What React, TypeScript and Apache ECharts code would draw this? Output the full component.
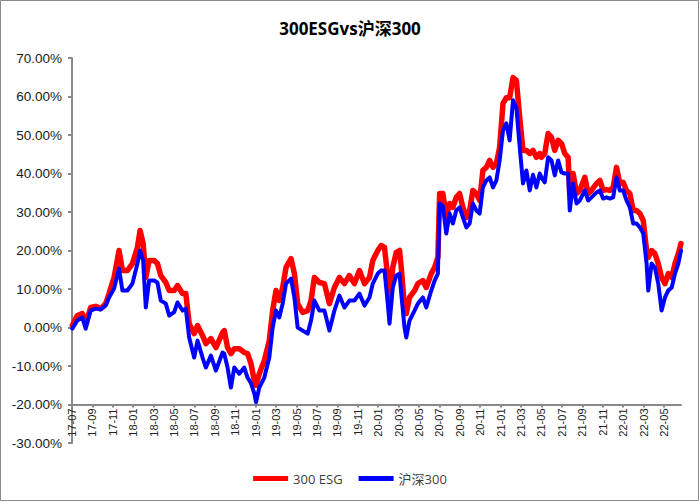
import React, { useEffect, useRef } from "react";
import * as echarts from "echarts";

// x positions in months since 2017-07-01
const monthOffset = [
  0.03, 0.52, 1.01, 1.34, 1.83, 2.32, 2.81, 3.3, 3.63, 4.12, 4.61, 4.94, 5.43, 5.92, 6.41, 6.67, 6.97,
  7.23, 7.56, 8.05, 8.37, 8.7, 9.19, 9.52, 10.01, 10.34, 10.83, 11.15, 11.48, 11.97, 12.3, 12.79, 13.12,
  13.61, 14.1, 14.75, 14.92, 15.24, 15.57, 15.9, 16.39, 16.88, 17.2, 17.54, 17.86, 18.03, 18.35, 18.84,
  19.33, 19.66, 19.99, 20.31, 20.64, 20.97, 21.46, 21.79, 22.11, 22.6, 23.09, 23.42, 23.75, 24.24, 24.73,
  25.22, 25.71, 26.2, 26.69, 27.18, 27.67, 28.16, 28.66, 29.15, 29.47, 29.96, 30.29, 30.62, 30.94, 31.11,
  31.43, 31.77, 32.09, 32.26, 32.58, 32.75, 33.07, 33.56, 33.89, 34.38, 34.71, 35.2, 35.53, 35.85, 36.02,
  36.34, 36.67, 37.0, 37.32, 37.65, 37.98, 38.3, 38.64, 38.96, 39.28, 39.62, 39.94, 40.26, 40.6, 40.92,
  41.25, 41.58, 41.9, 42.23, 42.56, 42.88, 43.21, 43.54, 43.87, 44.19, 44.52, 44.85, 45.17, 45.5, 45.83,
  46.0, 46.32, 46.65, 46.98, 47.3, 47.63, 47.96, 48.28, 48.61, 48.77, 49.1, 49.43, 49.75, 50.25, 50.57,
  50.9, 51.39, 51.72, 52.04, 52.37, 52.7, 53.02, 53.35, 53.68, 54.0, 54.33, 54.66, 54.99, 55.31, 55.64,
  55.97, 56.3, 56.46, 56.79, 57.11, 57.44, 57.77, 58.1, 58.42, 58.76, 59.08, 59.41, 59.67,
];

const esg300 = [
  0.5, 3.1, 3.6, 1.0, 5.2, 5.5, 4.9, 6.2, 8.8, 13.0, 20.0, 14.8, 14.8, 16.6, 20.8, 25.2, 21.8,
  13.0, 17.4, 17.4, 16.6, 13.5, 11.7, 9.6, 9.6, 10.9, 8.8, 8.8, 1.0, -1.6, 0.5, -2.1, -4.2,
  -2.9, -5.2, -1.3, -0.8, -5.2, -6.8, -5.5, -5.5, -6.5, -6.8, -9.4, -13.8, -15.0, -12.0, -8.6,
  -3.4, 4.4, 9.6, 7.0, 10.4, 15.6, 17.9, 14.0, 6.2, 3.9, 4.4, 7.0, 13.0, 11.7, 11.4,
  6.2, 10.4, 13.0, 11.4, 13.5, 11.4, 14.8, 11.4, 13.0, 17.4, 20.0, 21.3, 20.8, 13.0, 7.5,
  15.6, 19.5, 20.0, 15.6, 5.2, 3.6, 7.8, 9.6, 11.4, 12.2, 10.4, 14.0, 15.6, 18.2, 34.8,
  34.8, 28.6, 32.2, 31.2, 33.8, 34.8, 31.2, 28.6, 30.4, 35.6, 34.8, 33.0, 40.8, 41.6, 43.4,
  41.6, 42.6, 46.8, 58.2, 59.7, 59.7, 64.9, 64.2, 54.5, 46.0, 46.0, 45.2, 46.0, 44.2, 45.2,
  44.2, 45.2, 50.4, 49.4, 46.0, 48.6, 47.8, 45.2, 44.2, 34.8, 40.0, 34.8, 35.6, 39.0, 34.8,
  35.6, 37.4, 38.2, 35.6, 35.8, 35.6, 36.4, 41.6, 37.4, 37.7, 35.6, 34.8, 30.4, 30.4, 29.6,
  27.8, 20.0, 18.2, 20.0, 19.2, 16.6, 13.0, 11.4, 14.0, 13.0, 16.6, 19.2, 21.8,
];

const hs300 = [
  -0.3, 1.8, 2.6, -0.3, 4.4, 4.9, 4.7, 5.7, 7.8, 10.1, 15.3, 9.6, 9.6, 11.4, 16.6, 20.0, 17.4,
  5.2, 12.2, 12.2, 11.7, 7.0, 6.2, 3.1, 4.0, 6.5, 4.4, 4.9, -2.6, -7.8, -3.4, -7.8, -10.4,
  -7.3, -11.2, -6.5, -6.8, -10.4, -15.6, -10.4, -12.0, -10.4, -13.0, -14.5, -17.1, -19.4, -15.6, -13.0,
  -7.8, 0.0, 4.4, 2.6, 6.2, 11.4, 12.7, 7.8, 0.0, -0.8, -1.6, 1.8, 7.0, 4.4, 4.4,
  -0.8, 4.4, 8.3, 5.2, 7.0, 7.0, 8.8, 5.7, 7.8, 11.4, 14.0, 14.8, 14.8, 6.2, 1.0,
  10.4, 13.5, 14.0, 8.8, 0.0, -2.6, 1.8, 4.4, 6.2, 7.8, 5.2, 9.6, 12.2, 14.0, 32.2,
  31.5, 24.4, 29.6, 27.0, 30.4, 31.2, 28.6, 26.0, 27.0, 32.2, 30.4, 29.6, 36.4, 38.2, 39.0,
  36.4, 38.2, 43.4, 51.2, 53.0, 48.6, 59.0, 57.1, 46.8, 37.4, 40.8, 35.6, 39.7, 36.4, 40.0,
  39.0, 37.7, 44.2, 43.4, 39.5, 43.4, 40.3, 40.0, 40.0, 30.4, 37.4, 32.2, 33.0, 35.6, 33.0,
  33.8, 35.1, 35.6, 33.5, 33.8, 33.5, 33.8, 39.0, 35.6, 35.6, 33.0, 31.2, 27.0, 27.0, 26.0,
  24.4, 16.6, 9.6, 16.6, 15.6, 11.4, 4.4, 7.8, 9.6, 10.4, 14.0, 16.6, 20.0,
];

const tickMonths = [
  0, 2, 4, 6, 8, 10, 12, 14, 16, 18, 20, 22, 24, 26, 28, 30, 32, 34, 36, 38, 40, 42, 44, 46, 48, 50, 52, 54, 56, 58,
];
const tickLabels = [
  "17-07", "17-09", "17-11", "18-01", "18-03", "18-05", "18-07", "18-09", "18-11", "19-01",
  "19-03", "19-05", "19-07", "19-09", "19-11", "20-01", "20-03", "20-05", "20-07", "20-09",
  "20-11", "21-01", "21-03", "21-05", "21-07", "21-09", "21-11", "22-01", "22-03", "22-05",
];

const seriesNames = ["300 ESG", "沪深300"];

export default function App() {
  const ref = useRef<HTMLDivElement>(null);

  useEffect(() => {
    document.body.style.margin = "0";
    if (!ref.current) return;
    const chart = echarts.init(ref.current, undefined, { renderer: "svg" });
    const axisColor = "#898989";
    const plotH = 385; // grid height for -30..70
    chart.setOption({
      animation: false,
      backgroundColor: "#ffffff",
      graphic: [
        {
          type: "rect",
          shape: { x: 0.5, y: 0.5, width: 698, height: 500 },
          style: { fill: "none", stroke: axisColor, lineWidth: 1 },
          silent: true,
        },
      ],
      title: {
        text: "300ESGvs沪深300",
        left: "center",
        top: 15,
        textStyle: {
          fontSize: 17,
          fontWeight: "bold",
          color: "#000",
          fontFamily: "'Open Sans', 'Noto Sans CJK SC', sans-serif",
        },
      },
      legend: {
        data: seriesNames,
        left: "center",
        top: 467,
        icon: "rect",
        itemWidth: 35,
        itemHeight: 5,
        itemGap: 16,
        textStyle: {
          fontSize: 13,
          color: "#404040",
          fontFamily: "'Open Sans', 'Noto Sans CJK SC', sans-serif",
        },
      },
      grid: { left: 72, right: 19, top: 58, bottom: 59, containLabel: false },
      xAxis: {
        type: "value",
        min: 0,
        max: 59.67,
        offset: -plotH / 10,
        axisLine: { onZero: false, lineStyle: { color: axisColor, width: 2 } },
        axisTick: {
          show: true,
          customValues: tickMonths,
          length: 3,
          lineStyle: { color: axisColor, width: 2 },
        },
        axisLabel: {
          customValues: tickMonths,
          rotate: 90,
          margin: 4,
          fontSize: 11,
          color: "#222",
          fontFamily: "'Liberation Sans', Arial, sans-serif",
          formatter: (v: number) => tickLabels[Math.round(v / 2)] ?? "",
        },
        splitLine: { show: false },
      },
      yAxis: {
        type: "value",
        min: -30,
        max: 70,
        interval: 10,
        axisLine: { show: true, lineStyle: { color: axisColor, width: 2 } },
        axisTick: { show: true, length: 4, lineStyle: { color: axisColor, width: 2 } },
        axisLabel: {
          margin: 10,
          fontSize: 13.5,
          color: "#1a1a1a",
          fontFamily: "'Liberation Sans', Arial, sans-serif",
          formatter: (v: number) => v.toFixed(2) + "%",
        },
        splitLine: { show: false },
      },
      series: [
        {
          name: seriesNames[0],
          type: "line",
          showSymbol: false,
          symbol: "none",
          data: monthOffset.map((m, i) => [m, esg300[i]]),
          lineStyle: { color: "#ff0000", width: 5.5, join: "round", cap: "round" },
          itemStyle: { color: "#ff0000" },
        },
        {
          name: seriesNames[1],
          type: "line",
          showSymbol: false,
          symbol: "none",
          data: monthOffset.map((m, i) => [m, hs300[i]]),
          lineStyle: { color: "#0000ff", width: 4, join: "round", cap: "round" },
          itemStyle: { color: "#0000ff" },
        },
      ],
    });
    return () => chart.dispose();
  }, []);

  return <div ref={ref} style={{ width: 700, height: 502 }} />;
}
